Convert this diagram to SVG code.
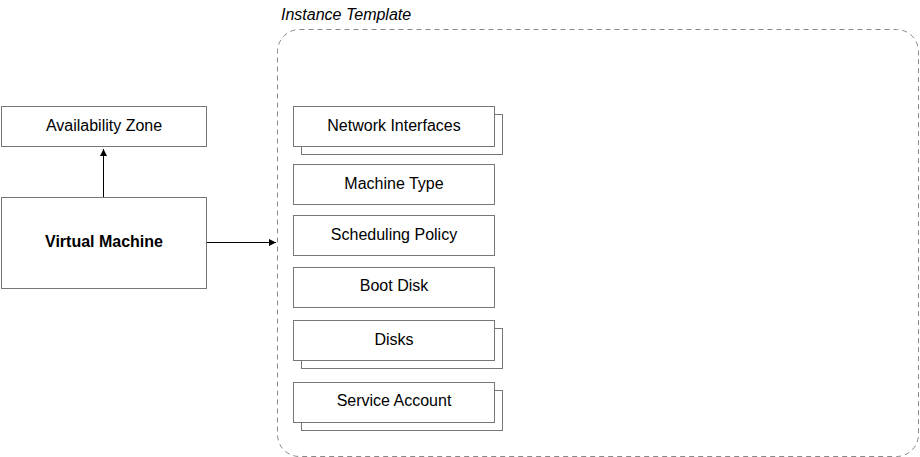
<svg xmlns="http://www.w3.org/2000/svg" width="920" height="457" viewBox="0 0 920 457">
<style>
.box{fill:#fff;stroke:#777;stroke-width:1}
.t{font-family:"Liberation Sans",Arial,sans-serif;font-size:16px;fill:#000;text-anchor:middle;dominant-baseline:central}
.b{font-weight:bold}
.c{stroke:#000;stroke-width:1;fill:none}
</style>
<defs>
<marker id="ah" markerWidth="8" markerHeight="8" refX="7" refY="4" orient="auto" markerUnits="userSpaceOnUse">
<path d="M0,0.5 L7,4 L0,7.5 Z" fill="#000"/>
</marker>
</defs>
<rect width="920" height="457" fill="#fff"/>
<g id="instance-template">
<rect x="277.5" y="29.5" width="641" height="427" rx="22" ry="22" fill="none" stroke="#888" stroke-dasharray="5 4"/>
<text x="281" y="14" font-family="'Liberation Sans',Arial,sans-serif" font-size="16" font-style="italic" dominant-baseline="central">Instance Template</text>
</g>
<g id="availability-zone">
<rect class="box" x="1.5" y="106.5" width="205" height="40"/>
<text class="t" x="104" y="125.5">Availability Zone</text>
</g>
<g id="virtual-machine">
<rect class="box" x="1.5" y="197.5" width="205" height="91"/>
<text class="t b" x="104" y="241.5">Virtual Machine</text>
</g>
<g id="network-interfaces">
<rect class="box" x="301.5" y="114.5" width="201" height="40"/>
<rect class="box" x="293.5" y="106.5" width="201" height="40"/>
<text class="t" x="394" y="125.5">Network Interfaces</text>
</g>
<g id="machine-type">
<rect class="box" x="293.5" y="164.5" width="201" height="40"/>
<text class="t" x="394" y="183.5">Machine Type</text>
</g>
<g id="scheduling-policy">
<rect class="box" x="293.5" y="215.5" width="201" height="40"/>
<text class="t" x="394" y="234.5">Scheduling Policy</text>
</g>
<g id="boot-disk">
<rect class="box" x="293.5" y="267.5" width="201" height="40"/>
<text class="t" x="394" y="285.5">Boot Disk</text>
</g>
<g id="disks">
<rect class="box" x="301.5" y="328.5" width="201" height="40"/>
<rect class="box" x="293.5" y="320.5" width="201" height="40"/>
<text class="t" x="394" y="339.5">Disks</text>
</g>
<g id="service-account">
<rect class="box" x="301.5" y="390.5" width="201" height="40"/>
<rect class="box" x="293.5" y="382.5" width="201" height="40"/>
<text class="t" x="394" y="400.5">Service Account</text>
</g>
<g id="connectors">
<path class="c" d="M103.5,197 L103.5,149" marker-end="url(#ah)"/>
<path class="c" d="M207,242.5 L276,242.5" marker-end="url(#ah)"/>
</g>
</svg>
